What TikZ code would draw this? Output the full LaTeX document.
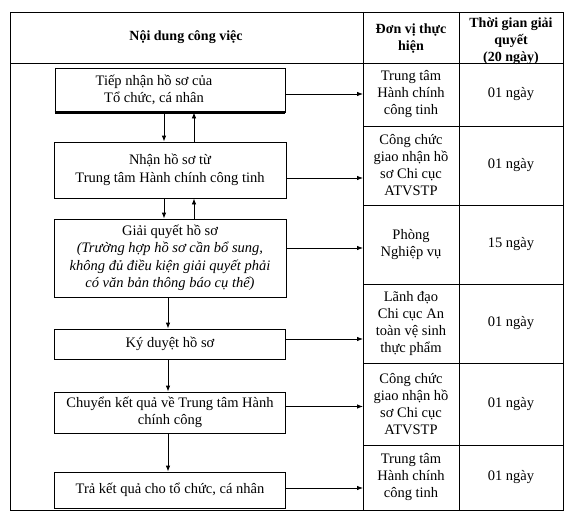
\documentclass[tikz,border=0pt]{standalone}
\usepackage{fontspec}
\setmainfont{Liberation Serif}
\usetikzlibrary{arrows.meta}
\begin{document}
\begin{tikzpicture}[x=1pt,y=-1pt,
  flowbox/.style={draw=black, line width=0.8pt, align=center, inner sep=0pt, font=\fontsize{14.5}{17.5}\selectfont},
  txt/.style={align=center, inner sep=0pt, font=\fontsize{14.5}{17.5}\selectfont},
  cell/.style={align=center, inner sep=0pt, font=\fontsize{14.5}{17}\selectfont},
  head/.style={align=center, inner sep=0pt, font=\bfseries\fontsize{14}{17}\selectfont},
  arr/.style={-{Latex[length=6pt,width=4.5pt]}, line width=0.8pt},
  gridline/.style={line width=0.9pt, black},
]
\useasboundingbox (0,0) rectangle (576,519);

% table grid
\draw[gridline] (10,12) rectangle (563,510);
\draw[gridline] (10,63) -- (563,63);
\draw[gridline] (363,12) -- (363,510);
\draw[gridline] (459,12) -- (459,510);
\foreach \yy in {126,205,284,363,445} \draw[gridline] (363,\yy) -- (563,\yy);

\coordinate (c1) at (363,0);
\coordinate (xd) at (164,0);
\coordinate (xu) at (194,0);
\coordinate (xm) at (168,0);

% headers
\node[head] (h1) at (186,37) {Nội dung công việc};
\node[head] (h2) at (411,39) {Đơn vị thực\\hiện};
\node[head] (h3) at (511,41) {Thời gian giải\\quyết\\(20 ngày)};

% flow boxes
\node[flowbox, minimum width=230pt, minimum height=44pt] (b1) at (170,90) {};
\draw[line width=2.4pt] (b1.south west) -- (b1.south east);
\node[txt] (t1) at (154,90) {Tiếp nhận hồ sơ của\\Tổ chức, cá nhân};
\node[flowbox, minimum width=232pt, minimum height=56pt] (b2) at (170,170) {Nhận hồ sơ từ\\Trung tâm Hành chính công tinh};
\node[flowbox, minimum width=232pt, minimum height=78pt] (b3) at (170,258) {Giải quyết hồ sơ\\\textit{(Trường hợp hồ sơ cần bổ sung,}\\\textit{không đủ điều kiện giải quyết phải}\\\textit{có văn bản thông báo cụ thể)}};
\node[flowbox, minimum width=231pt, minimum height=30pt] (b4) at (170,344) {Ký duyệt hồ sơ};
\node[flowbox, minimum width=231pt, minimum height=41pt] (b5) at (170,412.5) {Chuyển kết quả về Trung tâm Hành\\chính công};
\node[flowbox, minimum width=231pt, minimum height=36pt] (b6) at (170,490) {Trả kết quả cho tổ chức, cá nhân};

% vertical arrows
\draw[arr] (b1.south -| xd) -- (b2.north -| xd);
\draw[arr] (b2.north -| xu) -- (b1.south -| xu);
\draw[arr] (b2.south -| xd) -- (b3.north -| xd);
\draw[arr] (b3.north -| xu) -- (b2.south -| xu);
\draw[arr] (b3.south -| xm) -- (b4.north -| xm);
\draw[arr] (b4.south -| xm) -- (b5.north -| xm);
\draw[arr] (b5.south -| xm) -- (b6.north -| xm);

% horizontal arrows
\draw[arr] ([yshift=-4pt]b1.east) -- ([yshift=-4pt]b1.east -| c1);
\draw[arr] ([yshift=-8pt]b2.east) -- ([yshift=-8pt]b2.east -| c1);
\draw[arr] ([yshift=10pt]b3.east) -- ([yshift=10pt]b3.east -| c1);
\draw[arr] ([yshift=5pt]b4.east) -- ([yshift=5pt]b4.east -| c1);
\draw[arr] ([yshift=6pt]b5.east) -- ([yshift=6pt]b5.east -| c1);
\draw[arr] ([yshift=2pt]b6.east) -- ([yshift=2pt]b6.east -| c1);

% unit column
\node[cell] (u1) at (411,94.5) {Trung tâm\\Hành chính\\công tinh};
\node[cell] (u2) at (411,165.5) {Công chức\\giao nhận hồ\\sơ Chi cục\\ATVSTP};
\node[cell] (u3) at (411,244.5) {Phòng\\Nghiệp vụ};
\node[cell] (u4) at (411,323.5) {Lãnh đạo\\Chi cục An\\toàn vệ sinh\\thực phẩm};
\node[cell] (u5) at (411,404) {Công chức\\giao nhận hồ\\sơ Chi cục\\ATVSTP};
\node[cell] (u6) at (411,477.5) {Trung tâm\\Hành chính\\công tinh};

% time column
\node[cell] (d1) at (511,94.5) {01 ngày};
\node[cell] (d2) at (511,165.5) {01 ngày};
\node[cell] (d3) at (511,244.5) {15 ngày};
\node[cell] (d4) at (511,323.5) {01 ngày};
\node[cell] (d5) at (511,404) {01 ngày};
\node[cell] (d6) at (511,477.5) {01 ngày};
\end{tikzpicture}
\end{document}
